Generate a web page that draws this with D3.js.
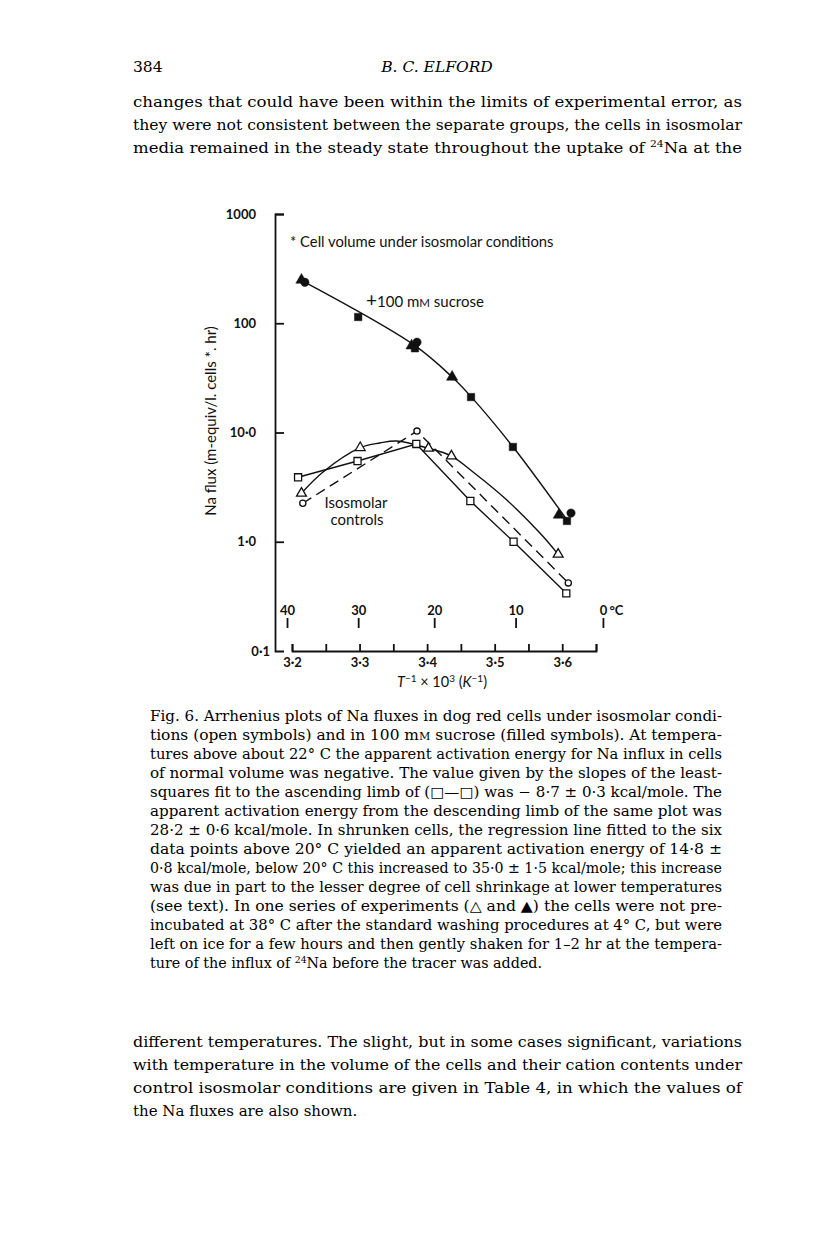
<!DOCTYPE html>
<html>
<head>
<meta charset="utf-8">
<script src="https://cdn.jsdelivr.net/npm/d3@7"></script>
<style>
body { margin: 0; background: #fff; }
</style>
</head>
<body>
<svg id="page" width="816" height="1233"></svg>
<script>
var width = 816, height = 1233

// x: T^-1 x 10^3 (K^-1), y: Na flux (m-equiv/l. cells*.hr)
var openSquares = [[3.209, 3.89], [3.297, 5.48], [3.384, 7.85], [3.464, 2.36], [3.528, 1.00], [3.606, 0.337]]
var openTriangles = [[3.214, 2.78], [3.301, 7.26], [3.402, 7.17], [3.436, 6.09], [3.594, 0.767]]
var openCircles = [[3.216, 2.25], [3.385, 10.3], [3.609, 0.42]]
var filledTriangles = [[3.214, 249], [3.377, 62.3], [3.437, 32.2], [3.595, 1.76]]
var filledCircles = [[3.219, 237], [3.385, 67], [3.613, 1.83]]
var filledSquares = [[3.298, 114], [3.382, 59], [3.465, 21.1], [3.527, 7.37], [3.607, 1.55]]
// hand-drawn fit curves
var sucroseFit = [[3.216, 243], [3.381, 63], [3.437, 32.2], [3.465, 21.3], [3.527, 7.4], [3.606, 1.62]]
var triangleFit = [[3.214, 2.78], [3.246, 4.35], [3.301, 7.26], [3.330, 8.02], [3.355, 8.36], [3.402, 7.17],
  [3.436, 6.09], [3.468, 4.35], [3.518, 2.41], [3.567, 1.20], [3.594, 0.767]]

var yTicks = [0.1, 1, 10, 100, 1000]
var yTickLabels = ['0·1', '1·0', '10·0', '100', '1000']
var xTicks = [3.2, 3.25, 3.3, 3.35, 3.4, 3.45, 3.5, 3.55, 3.6, 3.65]
var xTickLabels = ['3·2', '', '3·3', '', '3·4', '', '3·5', '', '3·6', '']
var tempTicks = [40, 30, 20, 10, 0]

var topLines = [
  'changes that could have been within the limits of experimental error, as',
  'they were not consistent between the separate groups, the cells in isosmolar',
  'media remained in the steady state throughout the uptake of ^24Na at the'
]
var captionLines = [
  'Fig. 6. Arrhenius plots of Na fluxes in dog red cells under isosmolar condi-',
  'tions (open symbols) and in 100 m~M sucrose (filled symbols). At tempera-',
  'tures above about 22° C the apparent activation energy for Na influx in cells',
  'of normal volume was negative. The value given by the slopes of the least-',
  'squares fit to the ascending limb of (□—□) was − 8·7 ± 0·3 kcal/mole. The',
  'apparent activation energy from the descending limb of the same plot was',
  '28·2 ± 0·6 kcal/mole. In shrunken cells, the regression line fitted to the six',
  'data points above 20° C yielded an apparent activation energy of 14·8 ±',
  '0·8 kcal/mole, below 20° C this increased to 35·0 ± 1·5 kcal/mole; this increase',
  'was due in part to the lesser degree of cell shrinkage at lower temperatures',
  '(see text).  In one series of experiments (△ and ▲) the cells were not pre-',
  'incubated at 38° C after the standard washing procedures at 4° C, but were',
  'left on ice for a few hours and then gently shaken for 1–2 hr at the tempera-',
  'ture of the influx of ^24Na before the tracer was added.'
]
var bottomLines = [
  'different temperatures. The slight, but in some cases significant, variations',
  'with temperature in the volume of the cells and their cation contents under',
  'control isosmolar conditions are given in Table 4, in which the values of',
  'the Na fluxes are also shown.'
]

var serif = '"DejaVu Serif", "Liberation Serif", serif'
var chartFont = 'Lato, "Open Sans", sans-serif'

var svg = d3.select('#page')
svg.append('rect').attr('width', width).attr('height', height).attr('fill', '#fff')

// page text
var textG = svg.append('g').attr('font-family', serif).attr('fill', '#000')

function addLine(str, xPos, yPos, size, len) {
  var t = textG.append('text').attr('x', xPos).attr('y', yPos).attr('font-size', size)
  var parts = str.split(/(\^\d+|~M)/)
  var shifted = false
  parts.forEach(function(p) {
    if (p === '') return
    if (p[0] === '^') {
      t.append('tspan').attr('dy', -size * 0.38).attr('font-size', size * 0.65).text(p.slice(1))
      shifted = true
    } else if (p === '~M') {
      t.append('tspan').attr('font-size', size * 0.72).text('M')
    } else {
      var s = t.append('tspan').text(p)
      if (shifted) { s.attr('dy', size * 0.38); shifted = false }
    }
  })
  if (len) t.attr('textLength', len).attr('lengthAdjust', 'spacingAndGlyphs')
  return t
}

addLine('384', 133, 72, 15.5)
textG.append('text').attr('x', 437).attr('y', 72).attr('font-size', 15.5)
  .attr('font-style', 'italic').attr('text-anchor', 'middle').text('B. C. ELFORD')

topLines.forEach(function(l, i) { addLine(l, 133, 107 + i * 23, 15, 609) })
captionLines.forEach(function(l, i) {
  addLine(l, 150, 721 + i * 19, 14.3, i < captionLines.length - 1 ? 572 : null)
})
bottomLines.forEach(function(l, i) {
  addLine(l, 133, 1047 + i * 23, 15, i < bottomLines.length - 1 ? 609 : null)
})

// chart
var x = d3.scaleLinear().domain([3.2, 3.65]).range([292, 596])
var y = d3.scaleLog().domain([0.1, 1000]).range([651, 214])

var xAxis = svg.append('g').attr('transform', 'translate(0,651)')
  .call(d3.axisBottom(x).tickValues(xTicks).tickSize(-7).tickPadding(7)
    .tickFormat(function(d, i) { return xTickLabels[i] }))
var yAxis = svg.append('g').attr('transform', 'translate(275,0)')
  .call(d3.axisLeft(y).tickValues(yTicks).tickSize(-9).tickPadding(19)
    .tickFormat(function(d, i) { return yTickLabels[i] }))

;[xAxis, yAxis].forEach(function(a) {
  a.select('.domain').attr('stroke', '#111').attr('stroke-width', 1.8)
  a.selectAll('.tick line').attr('stroke', '#111').attr('stroke-width', 1.8)
  a.selectAll('text').attr('font-family', chartFont).attr('font-size', 13)
    .attr('font-weight', 'bold').attr('fill', '#111')
})
yAxis.selectAll('.tick').filter(function(d) { return d === 0.1 })
  .select('line').remove()
yAxis.selectAll('.tick').filter(function(d) { return d === 0.1 })
  .select('text').attr('x', -5)

// temperature scale (deg C)
var temp = svg.selectAll('.temp').data(tempTicks).join('g')
  .attr('class', 'temp')
  .attr('transform', function(d) { return 'translate(' + x(1000 / (d + 273.15)) + ',0)' })
temp.append('line').attr('y1', 618).attr('y2', 628).attr('stroke', '#111').attr('stroke-width', 1.8)
temp.append('text').attr('y', 615).attr('text-anchor', 'middle')
  .attr('font-family', chartFont).attr('font-size', 13).attr('font-weight', 'bold').attr('fill', '#111')
  .text(function(d) { return d })
temp.filter(function(d) { return d === 0 }).append('text').attr('x', 6).attr('y', 615)
  .attr('font-family', chartFont).attr('font-size', 13).attr('font-weight', 'bold').attr('fill', '#111')
  .text('°C')

// axis titles
var xTitle = svg.append('text').attr('x', 442).attr('y', 687).attr('text-anchor', 'middle')
  .attr('font-family', chartFont).attr('font-size', 14.5).attr('fill', '#111')
xTitle.append('tspan').attr('font-style', 'italic').text('T')
xTitle.append('tspan').attr('dy', -5).attr('font-size', 10).text('−1')
xTitle.append('tspan').attr('dy', 5).text(' × 10')
xTitle.append('tspan').attr('dy', -5).attr('font-size', 10).text('3')
xTitle.append('tspan').attr('dy', 5).text(' (')
xTitle.append('tspan').attr('font-style', 'italic').text('K')
xTitle.append('tspan').attr('dy', -5).attr('font-size', 10).text('−1')
xTitle.append('tspan').attr('dy', 5).text(')')

svg.append('text').attr('transform', 'translate(216,421) rotate(-90)')
  .attr('text-anchor', 'middle').attr('font-family', chartFont).attr('font-size', 15)
  .attr('fill', '#111').text('Na flux (m-equiv/l. cells *. hr)')

// annotations
svg.append('text').attr('x', 290).attr('y', 247).attr('font-family', chartFont)
  .attr('font-size', 14.8).attr('fill', '#111').text('* Cell volume under isosmolar conditions')
var suc = svg.append('text').attr('x', 366).attr('y', 307).attr('font-family', chartFont)
  .attr('font-size', 15).attr('fill', '#111')
suc.append('tspan').attr('font-size', 19).text('+')
suc.append('tspan').text('100 m')
suc.append('tspan').attr('font-size', 11.5).text('M')
suc.append('tspan').text(' sucrose')
svg.append('text').attr('x', 356).attr('y', 508).attr('text-anchor', 'middle')
  .attr('font-family', chartFont).attr('font-size', 15).attr('fill', '#111').text('Isosmolar')
svg.append('text').attr('x', 357).attr('y', 525).attr('text-anchor', 'middle')
  .attr('font-family', chartFont).attr('font-size', 15).attr('fill', '#111').text('controls')

// lines
var line = d3.line().x(function(d) { return x(d[0]) }).y(function(d) { return y(d[1]) })
var lines = svg.append('g').attr('fill', 'none').attr('stroke', '#111').attr('stroke-width', 1.4)
lines.append('path').attr('d', line.curve(d3.curveCatmullRom)(sucroseFit))
lines.append('path').attr('d', line.curve(d3.curveLinear)(openSquares))
lines.append('path').attr('d', line.curve(d3.curveCatmullRom)(triangleFit))
lines.append('path').attr('d', line.curve(d3.curveLinear)(openCircles)).attr('stroke-dasharray', '10,6')

// markers
function markers(data, type, size, filled) {
  svg.append('g').selectAll('path').data(data).join('path')
    .attr('transform', function(d) { return 'translate(' + x(d[0]) + ',' + y(d[1]) + ')' })
    .attr('d', d3.symbol().type(type).size(size))
    .attr('fill', filled ? '#111' : '#fff')
    .attr('stroke', '#111').attr('stroke-width', filled ? 0.5 : 1.3)
}
markers(openSquares, d3.symbolSquare, 50, false)
markers(openTriangles, d3.symbolTriangle, 42, false)
markers(openCircles, d3.symbolCircle, 30, false)
markers(filledTriangles, d3.symbolTriangle, 55, true)
markers(filledCircles, d3.symbolCircle, 55, true)
markers(filledSquares, d3.symbolSquare, 55, true)
</script>
</body>
</html>
